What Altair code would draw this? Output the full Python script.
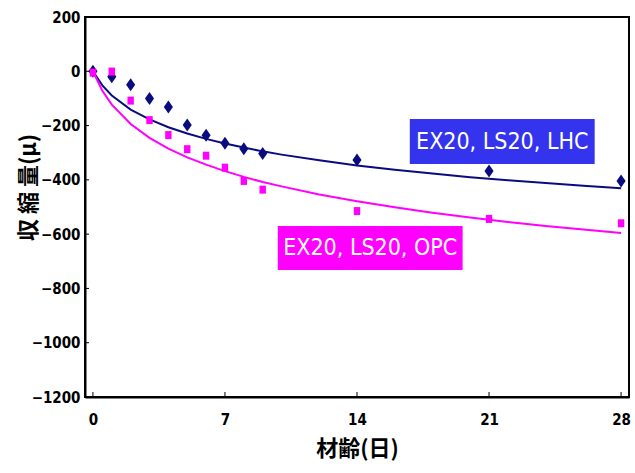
import altair as alt
import pandas as pd

# measured points
days = [0, 1, 2, 3, 4, 5, 6, 7, 8, 9, 14, 21, 28]
lhc = [0, -20, -50, -100, -132, -198, -236, -265, -285, -303, -327, -367, -404]
opc = [-5, -1, -108, -180, -235, -287, -311, -355, -404, -436, -515, -544, -560]

# approximation curves
fit_days = [0, 0.5, 1, 2, 3, 4, 5, 6, 7, 8, 9, 10, 12, 14, 16, 18, 20, 22, 24, 26, 28]
lhc_fit = [0, -52, -89, -141, -177, -206, -229, -249, -266, -281, -295, -307, -328,
           -347, -363, -377, -390, -401, -412, -422, -431]
opc_fit = [0, -72, -123, -194, -245, -285, -317, -344, -368, -389, -408, -424, -454,
           -479, -501, -521, -539, -555, -570, -583, -596]

x_ticks = [0, 7, 14, 21, 28]
y_ticks = [-1200, -1000, -800, -600, -400, -200, 0, 200]

labels = ["EX20, LS20, LHC", "EX20, LS20, OPC"]
label_x = [16.8, 9.8]
label_x2 = [26.6, 19.6]
label_y = [-176, -570]
label_y2 = [-342, -732]
label_fill = ["#3434EE", "#FF00FF"]

NAVY = "#0B0B80"
MAG = "#FF00FF"
NUM_FONT = "DejaVu Sans Condensed"
CJK_FONT = "Noto Sans CJK JP"

W, H = 544, 380

pts = pd.DataFrame({"day": days, "lhc": lhc, "opc": opc})
fit = pd.DataFrame({"day": fit_days, "lhc": lhc_fit, "opc": opc_fit})
lab = pd.DataFrame({"label": labels, "x": label_x, "x2": label_x2,
                    "y": label_y, "y2": label_y2, "fill": label_fill})
lab["xm"] = [(a + b) / 2 for a, b in zip(label_x, label_x2)]
lab["ym"] = [(a + b) / 2 for a, b in zip(label_y, label_y2)]

xscale = alt.Scale(domain=[-0.42, 28.42], nice=False, zero=False)
yscale = alt.Scale(domain=[-1200, 200], nice=False, zero=False)

xaxis = alt.Axis(values=x_ticks, title="材齢(日)", ticks=False, grid=False,
                 labelFont=NUM_FONT, labelFontSize=15, labelFontWeight="bold",
                 labelColor="black", labelPadding=15,
                 titleFont=CJK_FONT, titleFontSize=22, titleFontWeight="bold",
                 titleColor="black", titleY=58, titleBaseline="alphabetic",
                 domainColor="black", domainWidth=2)
yaxis = alt.Axis(values=y_ticks, title="収 縮 量(μ)", ticks=False, grid=False,
                 format="d",
                 labelFont=NUM_FONT, labelFontSize=15, labelFontWeight="bold",
                 labelColor="black", labelPadding=5,
                 titleFont=CJK_FONT, titleFontSize=22, titleFontWeight="bold",
                 titleColor="black", titleAngle=270, titleX=-57, titleY=170,
                 titleAlign="center", titleBaseline="middle",
                 domainColor="black", domainWidth=2)

X = alt.X("day:Q", scale=xscale, axis=xaxis)

base_fit = alt.Chart(fit)
line_lhc = base_fit.mark_line(color=NAVY, strokeWidth=2).encode(
    x=X, y=alt.Y("lhc:Q", scale=yscale, axis=yaxis))
line_opc = base_fit.mark_line(color=MAG, strokeWidth=2).encode(
    x=X, y=alt.Y("opc:Q", scale=yscale, axis=yaxis))

diamond = "M0,-1L0.7,0L0,1L-0.7,0Z"
rectshape = "M-0.8,-1L0.8,-1L0.8,1L-0.8,1Z"
base_pts = alt.Chart(pts)
pt_lhc = base_pts.mark_point(shape=diamond, filled=True, color=NAVY, opacity=1,
                             size=169).encode(
    x=X, y=alt.Y("lhc:Q", scale=yscale, axis=yaxis))
pt_opc = base_pts.mark_point(shape=rectshape, filled=True, color=MAG, opacity=1,
                             size=64).encode(
    x=X, y=alt.Y("opc:Q", scale=yscale, axis=yaxis))

boxes = alt.Chart(lab).mark_rect().encode(
    x=X, x2="x2:Q",
    y=alt.Y("y:Q", scale=yscale, axis=yaxis), y2="y2:Q",
    color=alt.Color("fill:N", scale=None)
).transform_calculate(day="datum.x")
texts = alt.Chart(lab).mark_text(color="white", font=NUM_FONT, fontSize=23,
                                 align="center", baseline="middle").encode(
    x=alt.X("xm:Q", scale=xscale, axis=xaxis),
    y=alt.Y("ym:Q", scale=yscale, axis=yaxis),
    text="label:N")

yt = pd.DataFrame({"v": y_ticks})
xt = pd.DataFrame({"v": x_ticks})
ytick_rules = alt.Chart(yt).mark_rule(color="black", strokeWidth=1).encode(
    y=alt.Y("v:Q", scale=yscale, axis=yaxis), x=alt.value(0), x2=alt.value(4))
xtick_rules = alt.Chart(xt).mark_rule(color="black", strokeWidth=1).encode(
    x=alt.X("v:Q", scale=xscale, axis=xaxis), y=alt.value(H), y2=alt.value(H - 5))

chart = alt.layer(
    line_lhc, line_opc, pt_lhc, pt_opc, boxes, texts, ytick_rules, xtick_rules
).properties(
    width=W, height=H,
    autosize=alt.AutoSizeParams(type="none"),
    padding={"left": 85, "top": 17, "right": 6, "bottom": 76},
    background="white"
).configure_view(stroke="black", strokeWidth=2)

chart.save("out.html", embed_options={"renderer": "svg", "actions": False})
